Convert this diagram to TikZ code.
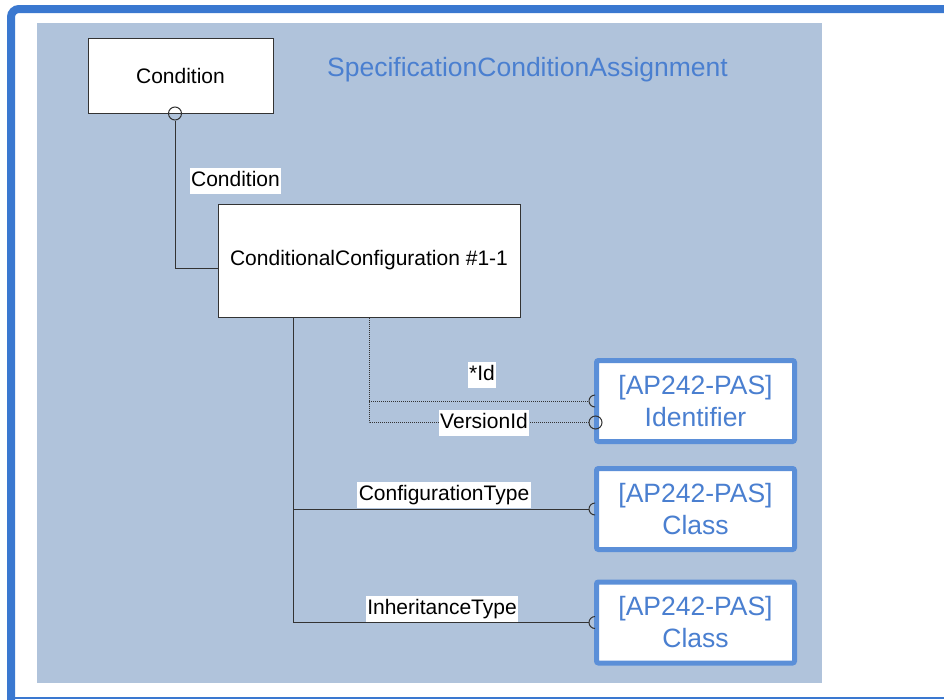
\documentclass[tikz,border=0pt]{standalone}
\usepackage{fontspec}
\setmainfont{Liberation Sans}
\definecolor{frameblue}{HTML}{3A78D0}
\definecolor{panel}{HTML}{B0C3DB}
\definecolor{boxblue}{HTML}{5B8FD8}
\definecolor{txtblue}{HTML}{4A7FD0}
\definecolor{linegray}{HTML}{333333}
\begin{document}
\begin{tikzpicture}[x=1pt,y=-1pt,
 entity/.style={draw=linegray, line width=1, fill=white, inner sep=0, font=\fontsize{21}{25}\selectfont},
 refbox/.style={draw=boxblue, line width=5, rounded corners=2, fill=white, minimum width=198, minimum height=81, align=center, text=txtblue, font=\fontsize{26.5}{32}\selectfont, inner sep=0},
 conn/.style={draw=linegray, line width=1},
 dotconn/.style={draw=linegray, line width=1, densely dotted},
 lbl/.style={fill=white, inner xsep=1.5, inner ysep=3, text height=15.5, text depth=4.5, font=\fontsize{21}{25}\selectfont},
 ocirc/.style={circle, draw=linegray, line width=1, minimum size=13, inner sep=0}
]
\useasboundingbox (0,0) rectangle (944,699);
\fill[white] (0,0) rectangle (944,699);
\draw[frameblue, line width=8, rounded corners=8] (960,9) -- (11,9) -- (11,710);
\draw[frameblue, line width=2] (11,698) -- (960,698);
\fill[panel] (37,23) rectangle (822,683);

\node[entity, minimum width=185, minimum height=75] (cond) at (180.5,75.5) {Condition};
\node[entity, minimum width=302, minimum height=113] (cc) at (369,260.5) {\raisebox{-2pt}{ConditionalConfiguration \#1-1}};
\node[refbox] (id) at (695.5,401) {[AP242-PAS]\\Identifier};
\node[refbox] (cls1) at (695.5,509) {[AP242-PAS]\\Class};
\node[refbox] (cls2) at (695.5,622.5) {[AP242-PAS]\\Class};
\node[anchor=base, text=txtblue, font=\fontsize{26.5}{30}\selectfont] (title) at (527.5,76) {SpecificationConditionAssignment};

% Condition link
\node[ocirc] (c1) at (175,113.5) {};
\draw[conn] (c1.south) |- ([yshift=-7.5pt]cc.west);
\node[lbl] (lc) at (235.5,180.5) {Condition};

% dotted links to Identifier
\node[ocirc] (vc) at (595.5,422.5) {};
\coordinate (idtop) at ([xshift=-5pt]id.west);
\draw[dotconn] (cc.south) |- (vc.west);
\draw[dotconn] (cc.south |- idtop) -- (idtop);
\draw[conn] ([shift={(6,-6)}]idtop) arc[start angle=270, end angle=90, radius=6];
\node[lbl] (lid) at (482,374.5) {*Id};
\node[lbl] (lvid) at (484,423) {VersionId};

% solid links to classes
\coordinate (sx) at (293,0);
\coordinate (e1) at ([xshift=-5pt]cls1.west);
\coordinate (e2) at ([xshift=-5pt]cls2.west);
\draw[conn] (cc.south -| sx) |- (e2);
\draw[conn] (sx |- e1) -- (e1);
\draw[conn] ([shift={(6,-6)}]e1) arc[start angle=270, end angle=90, radius=6];
\draw[conn] ([shift={(6,-6)}]e2) arc[start angle=270, end angle=90, radius=6];
\node[lbl] (lct) at (444,495) {ConfigurationType};
\node[lbl] (lit) at (442,609) {InheritanceType};
\end{tikzpicture}
\end{document}
